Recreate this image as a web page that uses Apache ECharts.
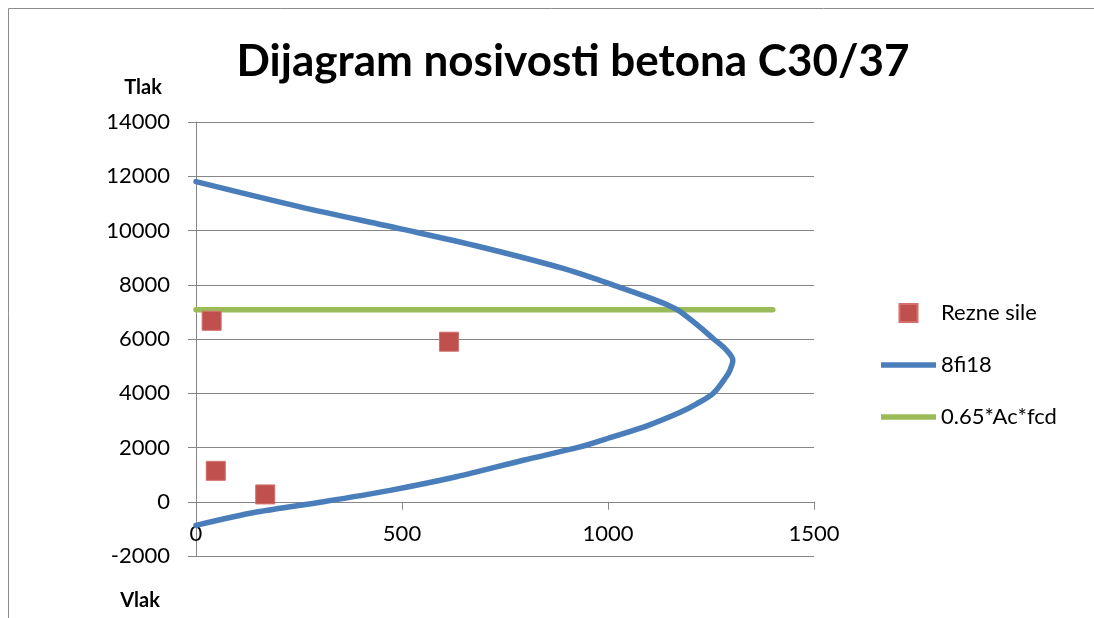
<!DOCTYPE html>
<html>
<head>
<meta charset="utf-8">
<script src="https://cdn.jsdelivr.net/npm/echarts@6/dist/echarts.min.js"></script>
<style>
  html, body { margin: 0; padding: 0; background: #ffffff; }
  #chart { width: 1094px; height: 618px; }
</style>
</head>
<body>
<div id="chart"></div>
<script>
// Interaction diagram of a C30/37 column section
const chartTitle = 'Dijagram nosivosti betona C30/37';
const axisTop = 'Tlak';
const axisBottom = 'Vlak';

// Axis ranges and steps
const xRange = [0, 1500, 500];
const yRange = [-2000, 14000, 2000];

// Section forces (moment, axial force)
const forcesM = [38, 48, 168, 614];
const forcesN = [6670, 1140, 270, 5900];

// Capacity curve for 8fi18 reinforcement, traced top to bottom
const capM = [0, 250, 500, 689, 891, 1013, 1093, 1150, 1174, 1223, 1255, 1287, 1303, 1296, 1287, 1255, 1214, 1174, 1093, 1013, 932, 794, 632, 471, 309, 147, 0];
const capN = [11800, 10880, 10050, 9400, 8600, 7990, 7560, 7220, 7020, 6440, 6020, 5600, 5220, 4850, 4610, 3990, 3600, 3290, 2790, 2400, 2020, 1530, 920, 420, 0, -380, -870];

// Limit 0.65*Ac*fcd
const limitM = [0, 1400];
const limitN = [7080, 7080];

const seriesNames = ['Rezne sile', '8fi18', '0.65*Ac*fcd'];

const zip = (a, b) => a.map((v, i) => [v, b[i]]);

const FONT = 'Lato';
const GRID_COLOR = '#868686';
const RED = '#C0504D';
const BLUE = '#4A7EBB';
const GREEN = '#9BBB59';

const chart = echarts.init(document.getElementById('chart'));
chart.setOption({
  animation: false,
  backgroundColor: '#ffffff',
  textStyle: { fontFamily: FONT },
  grid: { left: 196, top: 122, right: 280, bottom: 62 },
  graphic: [
    {
      type: 'rect', silent: true, z: -1,
      shape: { x: 8.5, y: 8.5, width: 1200, height: 800 },
      style: { fill: 'none', stroke: '#8c8c8c', lineWidth: 1 }
    },
    {
      type: 'text',
      style: {
        text: chartTitle, x: 573, y: 62, align: 'center', verticalAlign: 'middle',
        fontFamily: FONT, fontWeight: 'bold', fontSize: 44, fill: '#000000'
      }
    },
    {
      type: 'text',
      style: {
        text: axisTop, x: 143, y: 88, align: 'center', verticalAlign: 'middle',
        fontFamily: FONT, fontWeight: 'bold', fontSize: 20, fill: '#000000'
      }
    },
    {
      type: 'text',
      style: {
        text: axisBottom, x: 140, y: 601, align: 'center', verticalAlign: 'middle',
        fontFamily: FONT, fontWeight: 'bold', fontSize: 20, fill: '#000000'
      }
    }
  ],
  legend: {
    orient: 'vertical',
    left: 881, top: 302, padding: 0,
    itemWidth: 55, itemHeight: 18, itemGap: 30,
    symbolKeepAspect: true,
    textStyle: { fontFamily: FONT, fontSize: 22, color: '#000000' },
    data: [
      { name: seriesNames[0], icon: 'path://M0,0H18V18H0Z' },
      { name: seriesNames[1], icon: 'path://M0,0H55V5.5H0Z' },
      { name: seriesNames[2], icon: 'path://M0,0H55V5.5H0Z' }
    ]
  },
  xAxis: {
    type: 'value',
    min: xRange[0], max: xRange[1], interval: xRange[2],
    axisLine: { onZero: true, lineStyle: { color: GRID_COLOR, width: 1 } },
    axisTick: { show: true, length: 8, lineStyle: { color: GRID_COLOR } },
    axisLabel: { color: '#000000', fontFamily: FONT, fontSize: 22, margin: 21, formatter: v => String(v) },
    splitLine: { show: false }
  },
  yAxis: {
    type: 'value',
    min: yRange[0], max: yRange[1], interval: yRange[2],
    axisLine: { show: true, onZero: false, lineStyle: { color: GRID_COLOR, width: 1 } },
    axisTick: { show: true, length: 8, lineStyle: { color: GRID_COLOR } },
    axisLabel: { color: '#000000', fontFamily: FONT, fontSize: 22, margin: 26, formatter: v => String(v) },
    splitLine: { show: true, lineStyle: { color: GRID_COLOR, width: 1 } }
  },
  series: [
    {
      name: seriesNames[0],
      type: 'scatter',
      symbol: 'rect',
      symbolSize: 19,
      itemStyle: { color: RED, opacity: 1, borderColor: '#d46f6c', borderWidth: 1 },
      data: zip(forcesM, forcesN),
      z: 4
    },
    {
      name: seriesNames[1],
      type: 'line',
      smooth: 0.3,
      symbol: 'none',
      lineStyle: { color: BLUE, width: 5.5, cap: 'round', join: 'round' },
      itemStyle: { color: BLUE },
      data: zip(capM, capN),
      z: 3
    },
    {
      name: seriesNames[2],
      type: 'line',
      symbol: 'none',
      lineStyle: { color: GREEN, width: 5.5, cap: 'round' },
      itemStyle: { color: GREEN },
      data: zip(limitM, limitN),
      z: 2
    }
  ]
});

// Keep the horizontal axis on the zero line of the vertical axis
const zeroY = chart.convertToPixel({ yAxisIndex: 0 }, 0);
const baseY = chart.convertToPixel({ yAxisIndex: 0 }, yRange[0]);
chart.setOption({ xAxis: { offset: zeroY - baseY } });
</script>
</body>
</html>
